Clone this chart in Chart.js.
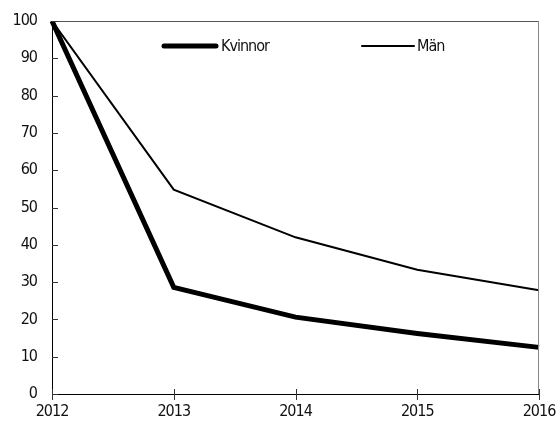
<!DOCTYPE html>
<html>
<head>
<meta charset="utf-8">
<script src="https://cdn.jsdelivr.net/npm/chart.js@4"></script>
<style>
  html, body { margin: 0; padding: 0; background: #fff; }
  #wrap { width: 557px; height: 423px; position: relative; }
</style>
</head>
<body>
<div id="wrap"><canvas id="chart"></canvas></div>
<script>
const years = ["2012", "2013", "2014", "2015", "2016"];
const kvinnor = [100, 28.6, 20.6, 16.2, 12.5];
const man = [100, 54.8, 42, 33.3, 27.8];
const yTicks = [0, 10, 20, 30, 40, 50, 60, 70, 80, 90, 100];

const FONT = "'Liberation Sans Narrow', 'DejaVu Sans Condensed', 'Roboto Condensed', sans-serif";

// squeeze the text a little, the original uses a condensed face
const narrowText = {
  id: "narrowText",
  beforeLayout(chart) { chart.ctx.letterSpacing = "-1px"; },
  beforeDraw(chart) { chart.ctx.letterSpacing = "-1px"; }
};

// frame, inward ticks and legend drawn inside the plot
const framePlugin = {
  id: "frame",
  afterDraw(chart) {
    const ctx = chart.ctx;
    const a = chart.chartArea;
    const xs = chart.scales.x, ys = chart.scales.y;
    ctx.save();
    ctx.lineWidth = 1;
    // top and right
    ctx.strokeStyle = "#555";
    ctx.beginPath();
    ctx.moveTo(a.left, a.top + 0.5);
    ctx.lineTo(a.right, a.top + 0.5);
    ctx.stroke();
    ctx.strokeStyle = "#888";
    ctx.beginPath();
    ctx.moveTo(a.right - 0.5, a.top);
    ctx.lineTo(a.right - 0.5, a.bottom);
    ctx.stroke();
    // left and bottom
    ctx.strokeStyle = "#000";
    ctx.beginPath();
    ctx.moveTo(a.left + 0.5, a.top);
    ctx.lineTo(a.left + 0.5, a.bottom + 5);
    ctx.moveTo(a.left, a.bottom + 0.5);
    ctx.lineTo(a.right, a.bottom + 0.5);
    ctx.stroke();
    // y ticks inward
    ctx.strokeStyle = "#333";
    yTicks.forEach(v => {
      const y = Math.round(ys.getPixelForValue(v)) + 0.5;
      ctx.beginPath();
      ctx.moveTo(a.left, y);
      ctx.lineTo(a.left + 6, y);
      ctx.stroke();
    });
    // x ticks across axis
    years.forEach((c, i) => {
      const x = Math.round(xs.getPixelForValue(i)) + 0.5;
      ctx.beginPath();
      ctx.moveTo(x, a.bottom - 5);
      ctx.lineTo(x, a.bottom + 6);
      ctx.stroke();
    });
    // legend
    const items = [{ x: 164, tx: 221 }, { x: 362, tx: 417 }];
    chart.data.datasets.forEach((ds, i) => {
      const it = items[i];
      const y = 46;
      ctx.strokeStyle = "#000";
      ctx.lineWidth = ds.borderWidth;
      ctx.lineCap = "round";
      ctx.beginPath();
      ctx.moveTo(it.x, y);
      ctx.lineTo(it.x + 52, y);
      ctx.stroke();
      ctx.fillStyle = "#111";
      ctx.font = "16px " + FONT;
      ctx.textBaseline = "middle";
      ctx.textAlign = "left";
      ctx.fillText(ds.label, it.tx, y + 1);
    });
    ctx.restore();
  }
};

new Chart(document.getElementById("chart"), {
  type: "line",
  data: {
    labels: years,
    datasets: [
      {
        label: "Kvinnor",
        data: kvinnor,
        borderColor: "#000",
        borderWidth: 5,
        pointRadius: 0,
        tension: 0
      },
      {
        label: "Män",
        data: man,
        borderColor: "#000",
        borderWidth: 2,
        pointRadius: 0,
        tension: 0
      }
    ]
  },
  options: {
    responsive: true,
    maintainAspectRatio: false,
    animation: false,
    layout: { padding: { top: 21, right: 18, left: 0, bottom: 0 } },
    plugins: {
      legend: { display: false },
      tooltip: { enabled: false }
    },
    scales: {
      x: {
        offset: false,
        grid: { display: false, drawTicks: false },
        border: { display: false },
        ticks: {
          color: "#111",
          font: { family: FONT, size: 16 },
          padding: 8,
          maxRotation: 0,
          autoSkip: false
        },
        afterFit(s) {
          s.height = 29;
          s.paddingLeft = 0;
          s.paddingRight = 0;
        }
      },
      y: {
        min: 0,
        max: 100,
        grid: { display: false, drawTicks: false },
        border: { display: false },
        ticks: {
          stepSize: 10,
          color: "#111",
          font: { family: FONT, size: 16 },
          padding: 15
        },
        afterFit(s) {
          s.width = 52;
          s.paddingTop = 0;
          s.paddingBottom = 0;
        }
      }
    }
  },
  plugins: [narrowText, framePlugin]
});
</script>
</body>
</html>
